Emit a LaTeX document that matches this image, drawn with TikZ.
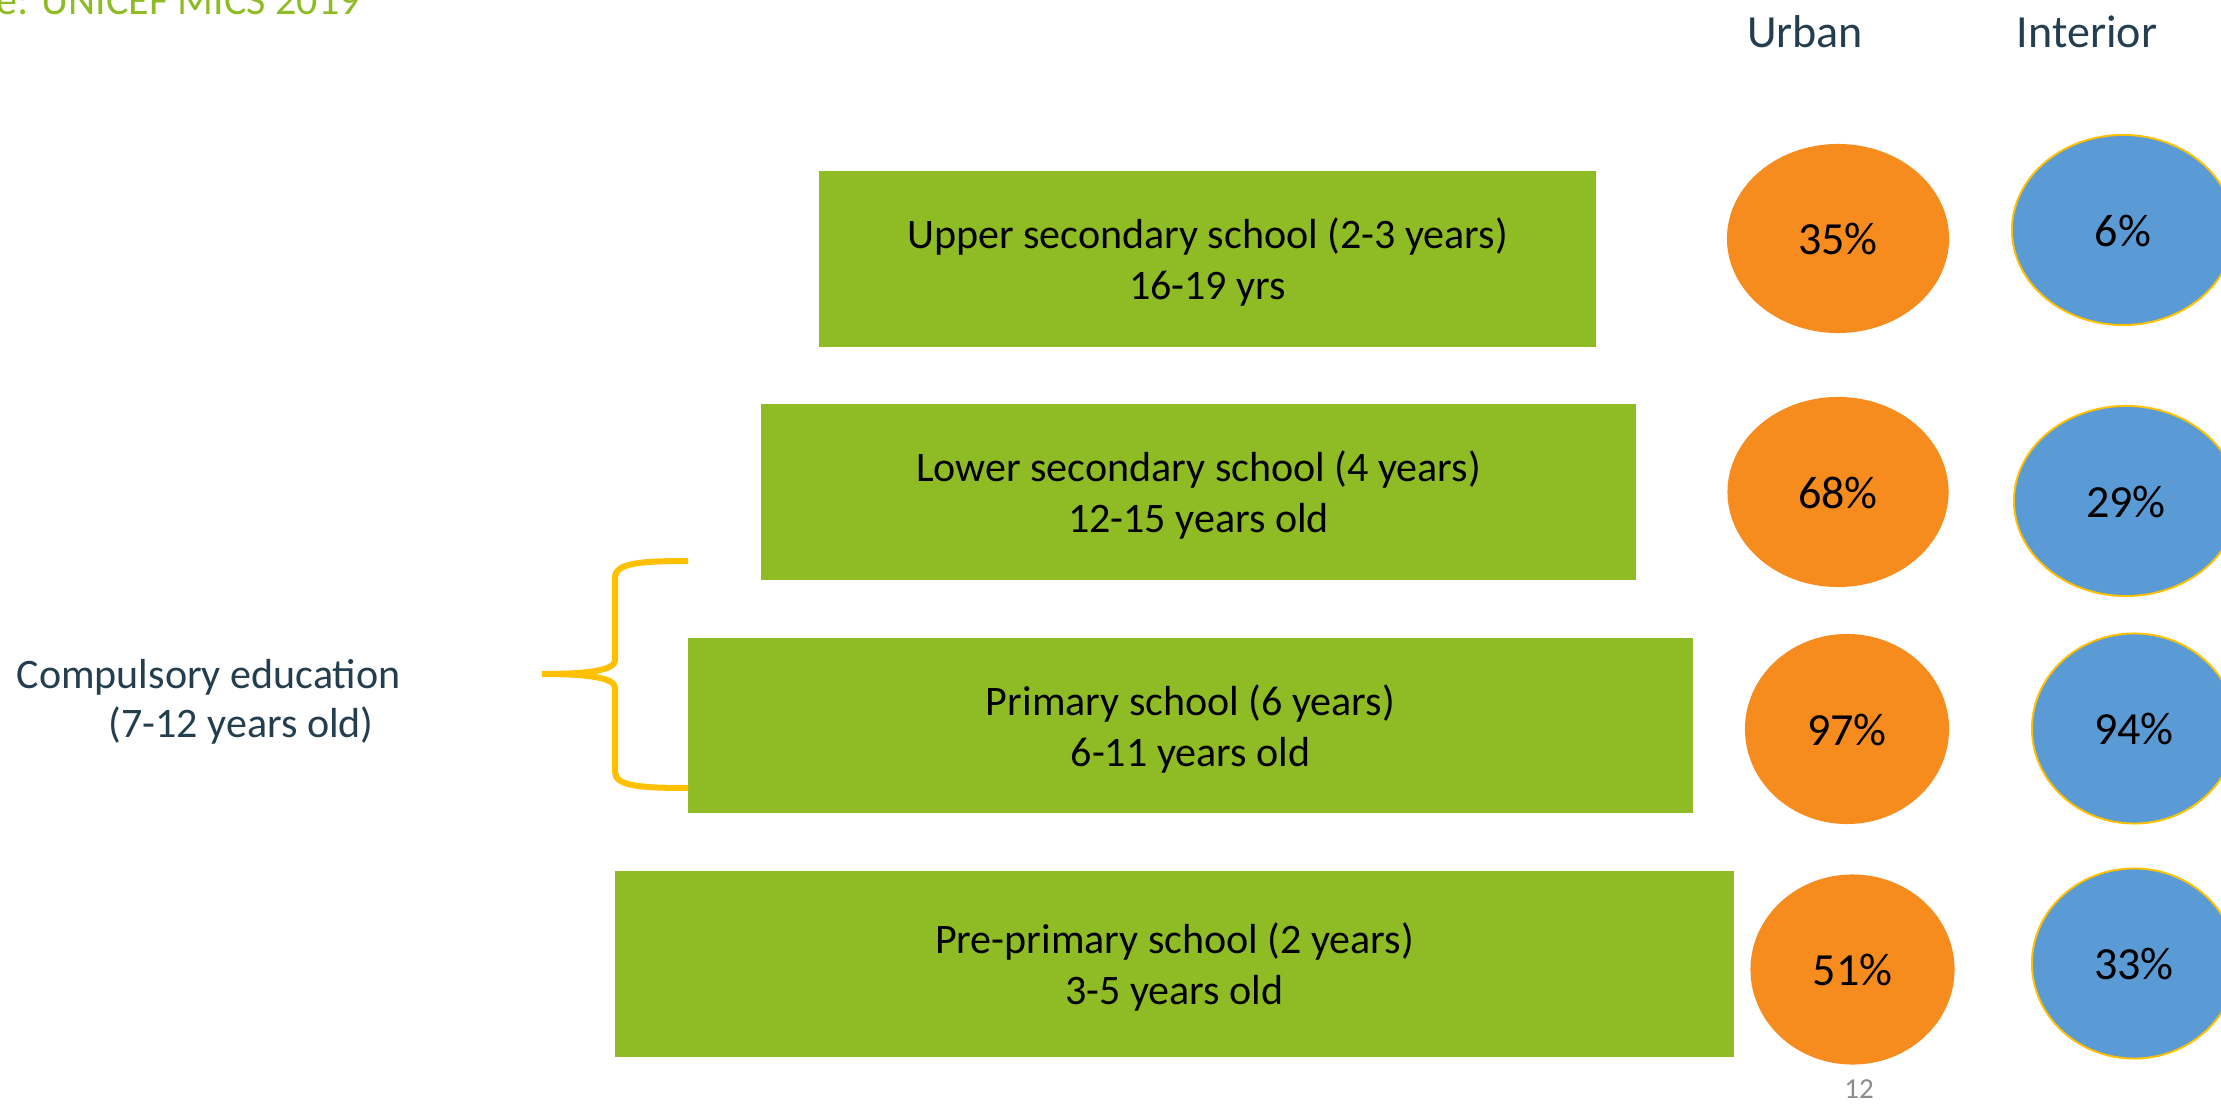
\documentclass[tikz,border=0pt]{standalone}
\usepackage{fontspec}
\setmainfont{Carlito}
\usetikzlibrary{shapes.geometric,calc}
\definecolor{cgreen}{RGB}{143,188,36}
\definecolor{corange}{RGB}{247,140,30}
\definecolor{cblue}{RGB}{91,155,213}
\definecolor{cyellow}{RGB}{255,192,0}
\definecolor{cdark}{RGB}{35,62,78}
\definecolor{cgray}{RGB}{140,140,140}
\newcommand\myfirsth{\rule{0pt}{0.37cm}}
\begin{document}
\begin{tikzpicture}[x=0.01cm,y=-0.01cm,
  lvlbox/.style={rectangle, fill=cgreen, inner sep=0pt, align=center, text=black,
    font=\fontsize{11.95pt}{14.51pt}\selectfont},
  urbdot/.style={ellipse, fill=corange, inner sep=0pt, text=black, text height=0.32cm, text depth=0pt,
    font=\fontsize{13.09pt}{15pt}\selectfont},
  intdot/.style={ellipse, fill=cblue, draw=cyellow, line width=0.55pt, inner sep=0pt, text=black,
    text height=0.32cm, text depth=0pt, font=\fontsize{13.09pt}{15pt}\selectfont},
  headlbl/.style={anchor=base, inner sep=0pt, text=cdark, font=\fontsize{13.09pt}{15pt}\selectfont},
  sidelbl/.style={anchor=base west, inner sep=0pt, text=cdark, font=\fontsize{11.95pt}{14.51pt}\selectfont},
  bracestyle/.style={draw=cyellow, line width=0.06cm}
]
\useasboundingbox (0,0) rectangle (2221,1104);
\clip (0,0) rectangle (2221,1104);

% source line (cut at the top edge)
\node[anchor=base west, inner sep=0pt, text=cgreen, font=\fontsize{11.95pt}{14.51pt}\selectfont]
  (src) at (-4,15) {e: UNICEF MICS 2019};

% column heads
\node[headlbl] (urbanhd) at (1805,48) {Urban};
\node[headlbl] (interhd) at (2087,48) {Interior};

% levels
\node[lvlbox, minimum width=7.77cm, minimum height=1.76cm] (upper) at (1207.5,259)
  {\myfirsth Upper secondary school (2-3 years)\\16-19 yrs};
\node[lvlbox, minimum width=8.75cm, minimum height=1.76cm] (lower) at (1198.5,492)
  {\myfirsth Lower secondary school (4 years)\\12-15 years old};
\node[lvlbox, minimum width=10.05cm, minimum height=1.75cm] (prim) at (1190.5,725.5)
  {\myfirsth Primary school (6 years)\\6-11 years old};
\node[lvlbox, minimum width=11.19cm, minimum height=1.86cm] (pre) at (1174.5,964)
  {\myfirsth Pre-primary school (2 years)\\3-5 years old};

% urban
\node[urbdot, minimum width=2.22cm, minimum height=1.89cm] (u1) at (1838,238.5) {35\%};
\node[urbdot, minimum width=2.21cm, minimum height=1.90cm] (u2) at (1838,492) {68\%};
\node[urbdot, minimum width=2.04cm, minimum height=1.90cm] (u3) at (1847,729) {97\%};
\node[urbdot, minimum width=2.04cm, minimum height=1.90cm] (u4) at (1852.5,969.5) {51\%};

% interior
\node[intdot, minimum width=2.22cm, minimum height=1.90cm] (i1) at (2123,230) {6\%};
\node[intdot, minimum width=2.24cm, minimum height=1.90cm] (i2) at (2126,501) {29\%};
\node[intdot, minimum width=2.04cm, minimum height=1.90cm] (i3) at (2134,728.5) {94\%};
\node[intdot, minimum width=2.04cm, minimum height=1.90cm] (i4) at (2134,963.5) {33\%};

% compulsory education brace
\coordinate (btop) at (688,561);
\coordinate (bbot) at (688,788);
\coordinate (btip) at (542,674);
\draw[bracestyle] (btop) .. controls (640,561) and (615,563) .. (615,578)
  -- (615,660) .. controls (615,670) and (590,674) .. (btip)
  .. controls (590,674) and (615,678) .. (615,688)
  -- (615,772) .. controls (615,786) and (640,788) .. (bbot);

\node[sidelbl] (comp1) at (16,689) {Compulsory education};
\node[sidelbl] (comp2) at (108,738) {(7-12 years old)};

% page number
\node[anchor=base, inner sep=0pt, text=cgray, font=\fontsize{8.25pt}{10pt}\selectfont]
  (pgno) at (1859,1099) {12};
\end{tikzpicture}
\end{document}
